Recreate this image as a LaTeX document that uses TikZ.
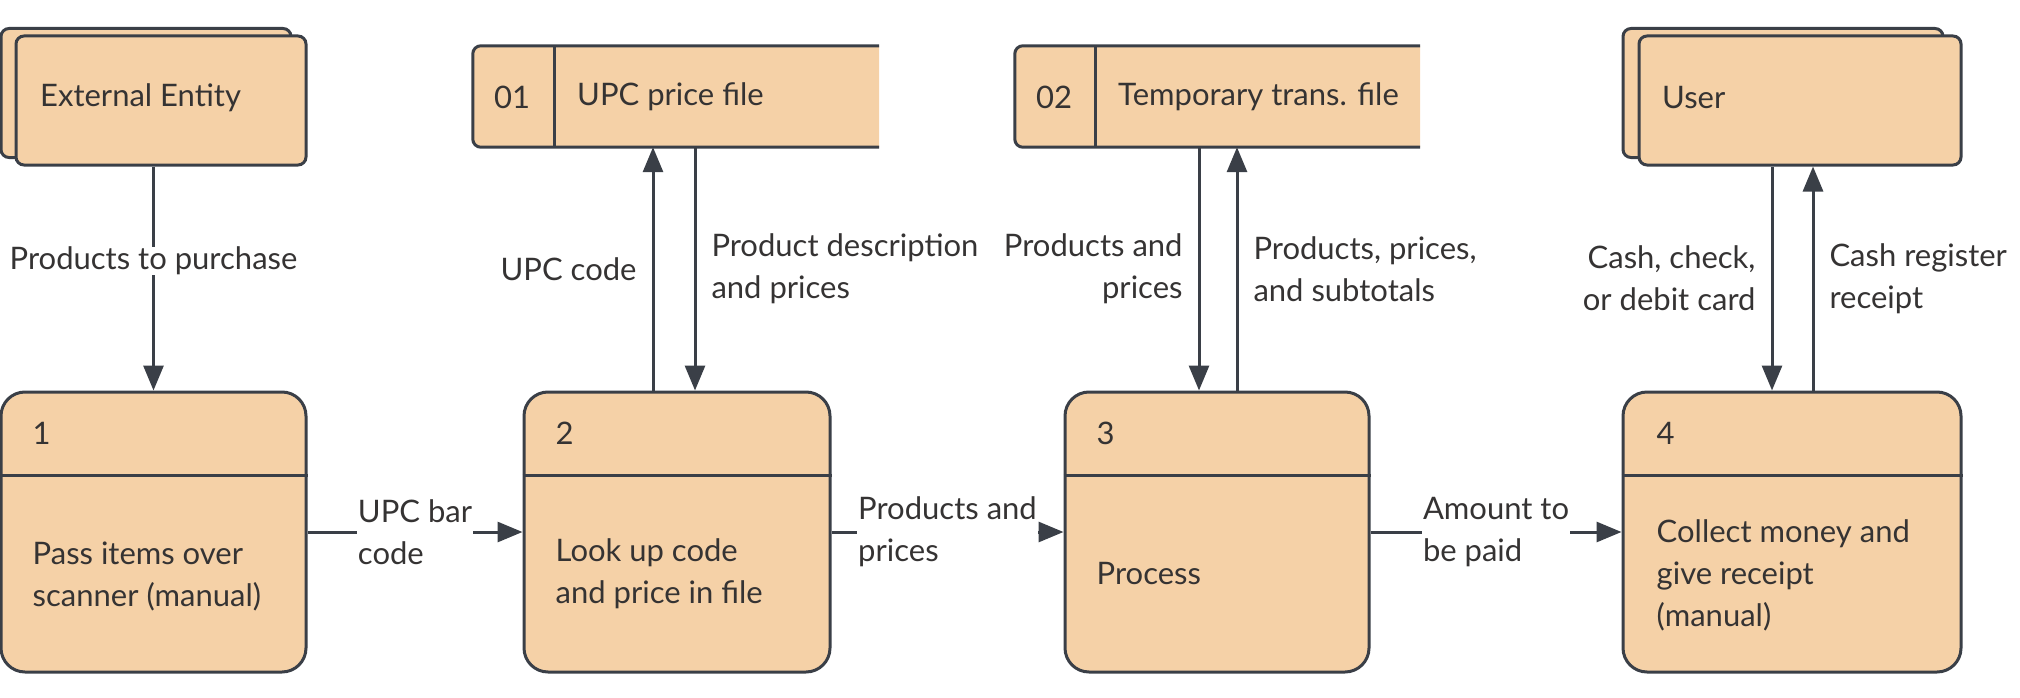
\documentclass[tikz,border=0pt]{standalone}
\usepackage{fontspec}
\setmainfont{Lato}
\usetikzlibrary{arrows.meta}
\definecolor{peach}{HTML}{F5D1A7}
\definecolor{ink}{HTML}{3A3F47}
\definecolor{txt}{HTML}{353333}
\begin{document}
\begin{tikzpicture}[x=1pt,y=-1pt,
  every node/.append style={font=\fontsize{31}{42}\selectfont, text=txt},
  box/.style={draw=ink, fill=peach, line width=3pt, inner sep=0pt},
  proc/.style={box, rounded corners=24pt, minimum height=280pt},
  ent/.style={box, rounded corners=8pt, minimum height=129pt},
  frame/.style={draw=none, fill=none, inner sep=0pt, minimum height=101pt},
  rule/.style={draw=ink, line width=3pt},
  flow/.style={draw=ink, line width=3pt, -{Triangle[length=25pt,width=20pt]}},
  tx/.style={inner sep=0pt, align=left},
  lbl/.style={fill=white, inner xsep=1pt, inner ysep=0pt, align=left},
  sidel/.style={inner sep=0pt, align=right, left=15pt},
  sider/.style={inner sep=0pt, align=left, right=15pt}
]
\useasboundingbox (0,0) rectangle (2020,698);

% external entities
\node[ent, minimum width=290pt] (ee0) at (146,93) {};
\node[ent, minimum width=290pt] (ee) at (161,100.5) {};
\node[tx, anchor=west] (eet) at (40,98) {External Entity};
\node[ent, minimum width=320pt] (us0) at (1783,93) {};
\node[ent, minimum width=322pt] (us) at (1800,100.5) {};
\node[tx, anchor=west] (ust) at (1662,98) {User};

% data stores
\node[frame, minimum width=406pt] (s1) at (676,96.5) {};
\path[fill=peach] (s1.south east) -- (s1.north east) [rounded corners=8pt] -- (s1.north west) -- (s1.south west) [sharp corners] -- cycle;
\draw[rule, rounded corners=8pt] (s1.north east) -- (s1.north west) -- (s1.south west) -- (s1.south east);
\draw[rule] ([xshift=82pt]s1.north west) -- ([xshift=82pt]s1.south west);
\node[tx] (s1n) at (512,97) {01};
\node[tx, anchor=west] (s1t) at (577,97) {UPC price file};

\node[frame, minimum width=405pt] (s2) at (1217.5,96.5) {};
\path[fill=peach] (s2.south east) -- (s2.north east) [rounded corners=8pt] -- (s2.north west) -- (s2.south west) [sharp corners] -- cycle;
\draw[rule, rounded corners=8pt] (s2.north east) -- (s2.north west) -- (s2.south west) -- (s2.south east);
\draw[rule] ([xshift=81pt]s2.north west) -- ([xshift=81pt]s2.south west);
\node[tx] (s2n) at (1054,97) {02};
\node[tx, anchor=west] (s2t) at (1118,97) {Temporary trans. file};

% processes
\node[proc, minimum width=305pt] (p1) at (153.5,532) {};
\node[proc, minimum width=306pt] (p2) at (677,532) {};
\node[proc, minimum width=304pt] (p3) at (1217,532) {};
\node[proc, minimum width=338pt] (p4) at (1792,532) {};
\foreach \p in {p1,p2,p3,p4}{
  \draw[rule] ([yshift=-85pt]\p.north west) -- ([yshift=-85pt]\p.north east);
}
\node[tx, anchor=west] (p1n) at ([xshift=33pt,yshift=-43pt]p1.north west) {1};
\node[tx, anchor=west] (p2n) at ([xshift=33pt,yshift=-43pt]p2.north west) {2};
\node[tx, anchor=west] (p3n) at ([xshift=33pt,yshift=-43pt]p3.north west) {3};
\node[tx, anchor=west] (p4n) at ([xshift=35pt,yshift=-43pt]p4.north west) {4};
\node[tx, anchor=west] (p1t) at ([xshift=33pt,yshift=-44pt]p1.west) {Pass items over\\scanner (manual)};
\node[tx, anchor=west] (p2t) at ([xshift=33pt,yshift=-42pt]p2.west) {Look up code\\and price in file};
\node[tx, anchor=west] (p3t) at ([xshift=33pt,yshift=-42pt]p3.west) {Process};
\node[tx, anchor=west] (p4t) at ([xshift=35pt,yshift=-43pt]p4.west) {Collect money and\\give receipt\\(manual)};

% flows
\draw[flow] (ee.south -| p1.north) -- node[lbl, pos=0.42] {Products to purchase} (p1.north);
\draw[flow] (p1.east) -- node[lbl] {UPC bar\\code} (p2.west);
\draw[flow] (p2.east) -- node[lbl] {Products and\\prices} (p3.west);
\draw[flow] (p3.east) -- node[lbl] {Amount to\\be paid} (p4.west);

\draw[flow] ([xshift=-24pt]p2.north) -- node[sidel] {UPC code} ([xshift=-24pt]p2.north |- s1.south);
\draw[flow] ([xshift=18pt]p2.north |- s1.south) -- node[sider] {Product description\\and prices} ([xshift=18pt]p2.north);
\draw[flow] ([xshift=-18pt]p3.north |- s2.south) -- node[sidel] {Products and\\prices} ([xshift=-18pt]p3.north);
\draw[flow] ([xshift=20pt]p3.north) -- node[sider] {Products, prices,\\and subtotals} ([xshift=20pt]p3.north |- s2.south);
\draw[flow] ([xshift=-20pt]p4.north |- us.south) -- node[sidel] {Cash, check,\\or debit card} ([xshift=-20pt]p4.north);
\draw[flow] ([xshift=21pt]p4.north) -- node[sider] {Cash register\\receipt} ([xshift=21pt]p4.north |- us.south);
\end{tikzpicture}
\end{document}
